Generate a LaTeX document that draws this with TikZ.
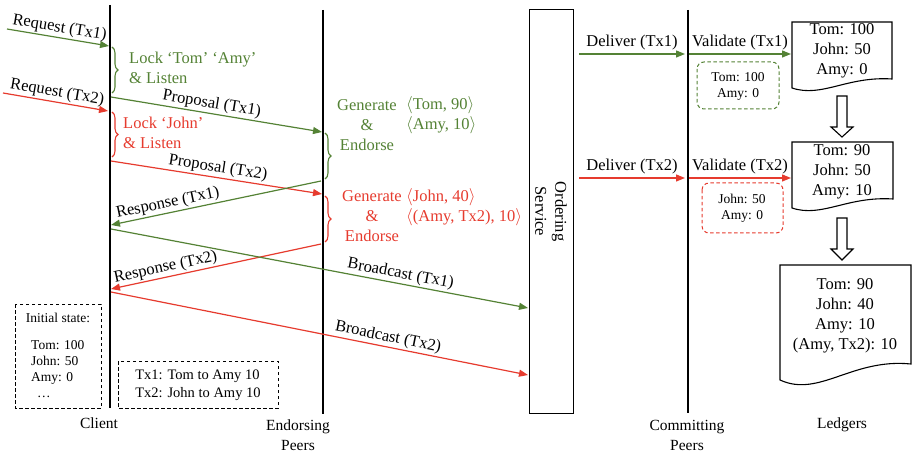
\documentclass[tikz,border=0pt]{standalone}
\usepackage{fontspec}
\setmainfont{Liberation Serif}
\usetikzlibrary{arrows.meta,decorations.pathreplacing}
\definecolor{gr}{HTML}{548235}
\definecolor{rd}{HTML}{E63B2E}
\newcommand\ftmain{\fontsize{16.5}{20}\selectfont}
\newcommand\ftsmall{\fontsize{13.5}{16}\selectfont}
\newcommand\ftlab{\fontsize{15.5}{20}\selectfont}
\begin{document}
\begin{tikzpicture}[x=1pt,y=-1pt,
  life/.style={line width=2.3pt},
  tip/.style={-{Triangle[length=9pt,width=7pt]}},
  rtip/.style={{Triangle[length=9pt,width=7pt]}-},
  msg/.style={line width=1.2pt},
  lbl/.style={font=\ftmain, inner sep=1.5pt, sloped, above},
  hlbl/.style={font=\ftmain, inner sep=3pt, above},
  brc/.style={decorate, decoration={brace,amplitude=6pt}, line width=1.1pt},
  txt/.style={font=\ftmain, inner sep=0pt},
  ledg/.style={draw=black, line width=1.1pt, fill=white},
  dbox/.style={dashed, dash pattern=on 3.5pt off 2.5pt, line width=1pt},
  barrow/.style={draw=black, line width=1.1pt, fill=white}
]
\useasboundingbox (0,0) rectangle (915,454);

% lifelines
\coordinate (cT) at (110,5);   \coordinate (cB) at (110,408);
\coordinate (eT) at (323,10);  \coordinate (eB) at (323,414);
\coordinate (mT) at (688,10);  \coordinate (mB) at (688,413);
\draw[life] (cT) -- (cB);
\draw[life] (eT) -- (eB);
\draw[life] (mT) -- (mB);

% ordering service
\node[draw, line width=1pt, rotate=-90, minimum width=403pt, minimum height=44pt,
      align=center, font=\ftmain, inner sep=0pt] (os) at (551,211.5) {Ordering\\Service};

% bottom labels
\node[font=\ftlab] (lc) at (99,423) {Client};
\node[font=\ftlab, align=center] (le) at (298,435) {Endorsing\\Peers};
\node[font=\ftlab, align=center] (lm) at (687,435) {Committing\\Peers};
\node[font=\ftlab] (ll) at (842,425) {Ledgers};

% requests
\coordinate (rq1s) at (7,29);   \coordinate (rq1e) at (109,46);
\coordinate (rq2s) at (3,93);   \coordinate (rq2e) at (108,111);
\draw[msg,tip,gr] (rq1s) -- (rq1e) node[lbl,midway,text=black] {Request (Tx1)};
\draw[msg,tip,rd] (rq2s) -- (rq2e) node[lbl,midway,text=black] {Request (Tx2)};

% client braces
\draw[brc,gr] (112,47) -- (112,93);
\node[txt, text=gr, align=left, anchor=west] (lk1) at (129,68) {Lock ‘Tom’ ‘Amy’\\\& Listen};
\draw[brc,rd] (112,112) -- (112,157);
\node[txt, text=rd, align=left, anchor=west] (lk2) at (123,133) {Lock ‘John’\\\& Listen};

% proposals
\coordinate (p1s) at (111,97);  \coordinate (p1e) at (322,132);
\coordinate (p2s) at (111,161); \coordinate (p2e) at (322,194);
\draw[msg,tip,gr] (p1s) -- (p1e) node[lbl,pos=0.47,text=black] {Proposal (Tx1)};
\draw[msg,tip,rd] (p2s) -- (p2e) node[lbl,pos=0.5,text=black] {Proposal (Tx2)};

% endorser braces and texts
\draw[brc,gr] (325,133) -- (325,179);
\node[txt, text=gr, align=center] (ge1) at (367,125) {Generate\\\&\\Endorse};
\node[txt, text=gr, align=left, anchor=west] (kv1) at (406,115) {$\langle$Tom, 90$\rangle$\\$\langle$Amy, 10$\rangle$};
\draw[brc,rd] (325,196) -- (325,242);
\node[txt, text=rd, align=center] (ge2) at (372,216) {Generate\\\&\\Endorse};
\node[txt, text=rd, align=left, anchor=west] (kv2) at (406,207) {$\langle$John, 40$\rangle$\\$\langle$(Amy, Tx2), 10$\rangle$};

% responses
\coordinate (rs1s) at (321,181); \coordinate (rs1e) at (111,225);
\coordinate (rs2s) at (321,244); \coordinate (rs2e) at (111,289);
\draw[msg,rtip,gr] (rs1e) -- (rs1s) node[lbl,pos=0.28,text=black] {Response (Tx1)};
\draw[msg,rtip,rd] (rs2e) -- (rs2s) node[lbl,pos=0.27,text=black] {Response (Tx2)};

% broadcasts
\coordinate (b1s) at (111,229); \coordinate (b1e) at (528,308);
\coordinate (b2s) at (111,292); \coordinate (b2e) at (528,375);
\draw[msg,tip,gr] (b1s) -- (b1e) node[lbl,pos=0.69,text=black] {Broadcast (Tx1)};
\draw[msg,tip,rd] (b2s) -- (b2e) node[lbl,pos=0.66,text=black] {Broadcast (Tx2)};

% bottom-left boxes
\draw[dbox] (15,304) rectangle (101,408);
\node[font=\ftsmall, inner sep=0pt] (ist) at (58,318) {Initial state:};
\node[font=\ftsmall, inner sep=0pt, align=left, anchor=north west] (isv) at (31,340)
  {\fontsize{13.5}{14.8}\selectfont Tom: 100\\John: 50\\Amy: 0\\\hspace*{6pt}\dots};
\draw[dbox] (118,361) rectangle (278,408);
\node[font=\fontsize{14.5}{18}\selectfont, inner sep=0pt, align=left] (txs) at (198,385)
  {Tx1: Tom to Amy 10\\Tx2: John to Amy 10};

% delivers and validates
\coordinate (d1s) at (579,54);  \coordinate (d1e) at (685,54);
\coordinate (v1s) at (689,54);  \coordinate (v1e) at (791,54);
\coordinate (d2s) at (579,178); \coordinate (d2e) at (685,178);
\coordinate (v2s) at (689,178); \coordinate (v2e) at (791,178);
\draw[msg,tip,gr] (d1s) -- (d1e) node[hlbl,midway,text=black] {Deliver (Tx1)};
\draw[msg,tip,gr] (v1s) -- (v1e) node[hlbl,midway,text=black] {Validate (Tx1)};
\draw[msg,tip,rd] (d2s) -- (d2e) node[hlbl,midway,text=black] {Deliver (Tx2)};
\draw[msg,tip,rd] (v2s) -- (v2e) node[hlbl,midway,text=black] {Validate (Tx2)};

% dashed read sets
\draw[dbox,gr,rounded corners=7pt] (697,62) rectangle (779,109);
\node[font=\ftsmall, inner sep=0pt, align=center] (rs1) at (738,86) {\fontsize{13.5}{17}\selectfont Tom: 100\\Amy: 0};
\draw[dbox,rd,rounded corners=7pt] (702,183) rectangle (783,233);
\node[font=\ftsmall, inner sep=0pt, align=center] (rsb) at (742,208) {\fontsize{13.5}{17}\selectfont John: 50\\Amy: 0};

% ledgers
\draw[ledg] (792,88) -- (792,22) -- (892,22) -- (892,79) .. controls (847,76) and (822,98) .. (792,88) -- cycle;
\node[txt, align=center] (L1) at (842,51) {Tom: 100\\John: 50\\Amy: 0};
\draw[ledg] (792,208) -- (792,142) -- (893,142) -- (893,199) .. controls (847,196) and (822,218) .. (792,208) -- cycle;
\node[txt, align=center] (L2) at (842,172) {Tom: 90\\John: 50\\Amy: 10};
\draw[ledg] (780,380) -- (780,265) -- (911,265) -- (911,364) .. controls (852,358) and (819,398) .. (780,380) -- cycle;
\node[txt, align=center] (L3) at (845,316) {\fontsize{16.5}{19.7}\selectfont Tom: 90\\John: 40\\Amy: 10\\(Amy, Tx2): 10};

% hollow arrows between ledgers
\draw[barrow] (837,96) -- (847,96) -- (847,127) -- (853,127) -- (842,137) -- (831,127) -- (837,127) -- cycle;
\draw[barrow] (837,218) -- (847,218) -- (847,249) -- (853,249) -- (842,260) -- (831,249) -- (837,249) -- cycle;
\end{tikzpicture}
\end{document}
